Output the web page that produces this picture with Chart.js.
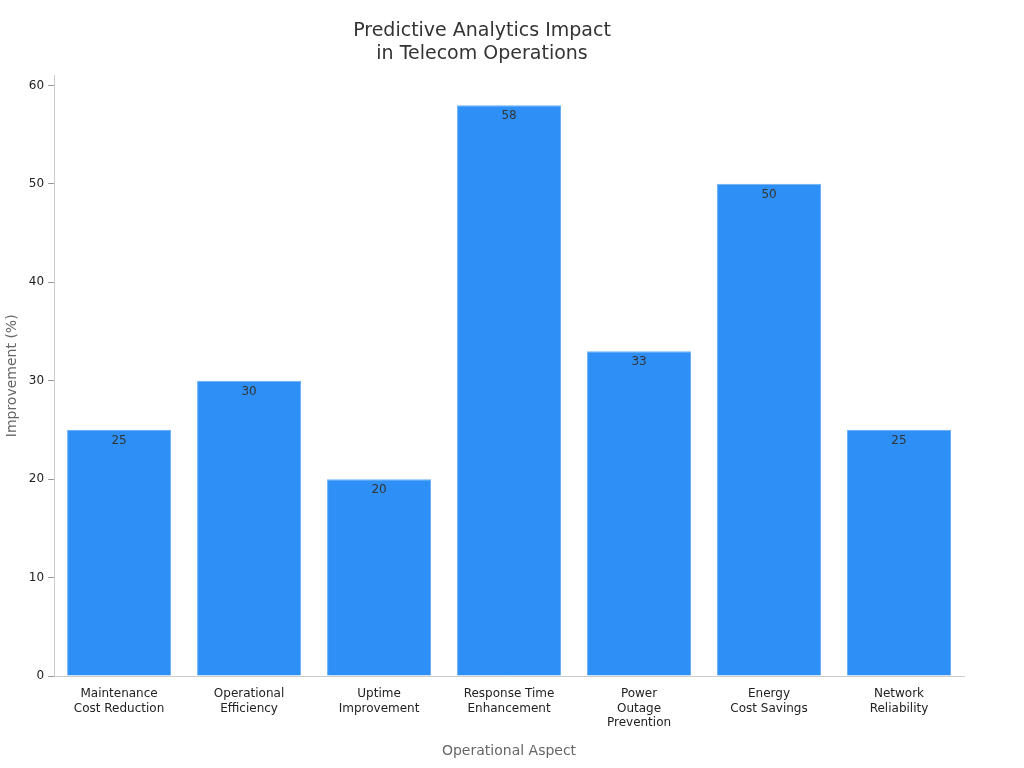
<!DOCTYPE html>
<html>
<head>
<meta charset="utf-8">
<script src="https://cdn.jsdelivr.net/npm/chart.js@4"></script>
<style>
  body { margin: 0; background: #fff; }
</style>
</head>
<body>
<canvas id="grafico" width="1024" height="768"></canvas>
<script>
var categorias = [
    ['Maintenance', 'Cost Reduction'],
    ['Operational', 'Efficiency'],
    ['Uptime', 'Improvement'],
    ['Response Time', 'Enhancement'],
    ['Power', 'Outage', 'Prevention'],
    ['Energy', 'Cost Savings'],
    ['Network', 'Reliability']
];
var valores = [25, 30, 20, 58, 33, 50, 25];
var ticks_y = [0, 10, 20, 30, 40, 50, 60];

// rótulos de valor dentro do topo das barras
const rotulos = {
    id: 'rotulos',
    afterDatasetsDraw(chart) {
        const ctx = chart.ctx;
        const meta = chart.getDatasetMeta(0);
        ctx.save();
        ctx.fillStyle = '#333';
        ctx.font = '12px "DejaVu Sans"';
        ctx.textAlign = 'center';
        ctx.textBaseline = 'top';
        meta.data.forEach(function (barra, i) {
            ctx.fillText(valores[i], barra.x, barra.y + 5);
        });
        ctx.restore();
    }
};

Chart.defaults.font.family = '"DejaVu Sans", sans-serif';

new Chart(document.getElementById('grafico'), {
    type: 'bar',
    data: {
        labels: categorias,
        datasets: [{
            data: valores,
            backgroundColor: '#2E90F6',
            borderColor: '#6AB0F8',
            borderWidth: 1,
            barPercentage: 0.8,
            categoryPercentage: 1.0
        }]
    },
    options: {
        responsive: false,
        animation: false,
        devicePixelRatio: 1,
        layout: { padding: { left: 0, right: 60, top: 10, bottom: 4 } },
        plugins: {
            legend: { display: false },
            tooltip: { enabled: false },
            title: {
                display: true,
                text: ['Predictive Analytics Impact', 'in Telecom Operations'],
                color: '#333',
                font: { size: 19, weight: 'normal' },
                padding: { top: 10, bottom: 10 }
            }
        },
        scales: {
            x: {
                grid: { display: false },
                border: { color: '#ccc' },
                ticks: { color: '#222', font: { size: 12 }, maxRotation: 0, autoSkip: false },
                title: { display: true, text: 'Operational Aspect', color: '#666', font: { size: 14 }, padding: { top: 10 } }
            },
            y: {
                min: 0, max: 61,
                afterBuildTicks: function (ax) { ax.ticks = ticks_y.map(function (v) { return { value: v }; }); },
                grid: { drawOnChartArea: false, tickLength: 6, color: '#999' },
                border: { color: '#ccc' },
                ticks: { color: '#222', font: { size: 12 }, padding: 4 },
                title: { display: true, text: 'Improvement (%)', color: '#666', font: { size: 14 } }
            }
        }
    },
    plugins: [rotulos]
});
</script>
</body>
</html>
